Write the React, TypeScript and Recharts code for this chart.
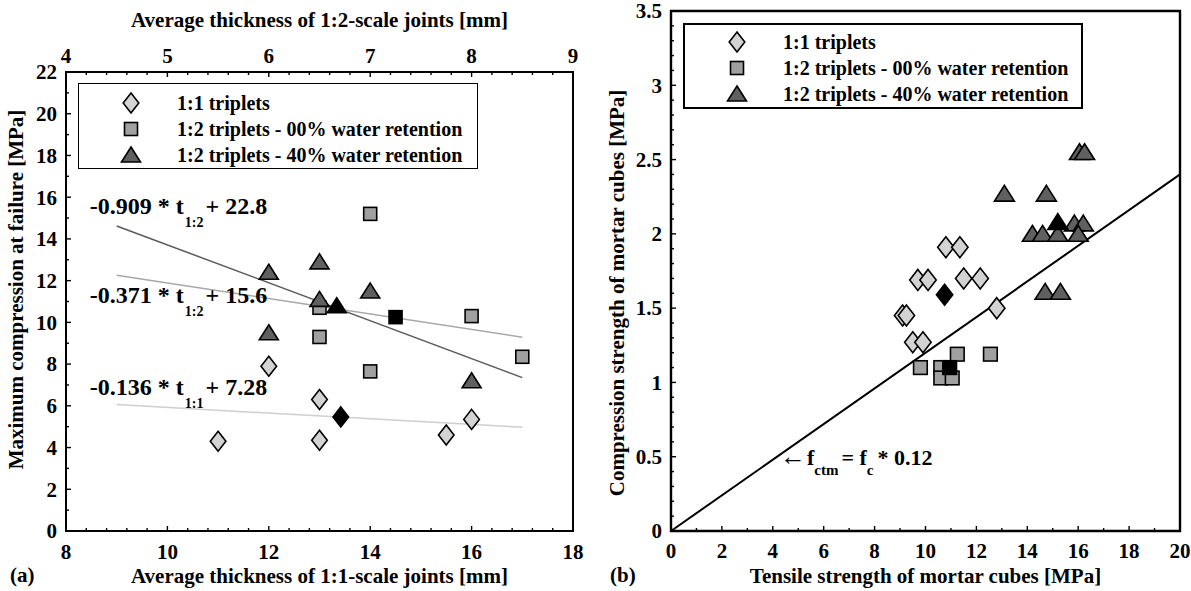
import React from "react";
import {
  ScatterChart,
  Scatter,
  XAxis,
  YAxis,
  ReferenceLine,
  ReferenceArea,
  ReferenceDot,
  Legend,
  Label,
} from "recharts";

const FONT = '"Liberation Serif", "Times New Roman", Times, serif';

// ---------- (a) joint thickness vs. compression at failure ----------
const aBottomMajor = [8, 10, 12, 14, 16, 18];
const aBottomMinor = [8.4, 8.8, 9.2, 9.6, 10.4, 10.8, 11.2, 11.6, 12.4, 12.8, 13.2, 13.6, 14.4, 14.8, 15.2, 15.6, 16.4, 16.8, 17.2, 17.6];
const aTopMajor = [4, 5, 6, 7, 8, 9];
const aTopMinor = [4.2, 4.4, 4.6, 4.8, 5.2, 5.4, 5.6, 5.8, 6.2, 6.4, 6.6, 6.8, 7.2, 7.4, 7.6, 7.8, 8.2, 8.4, 8.6, 8.8];
const aYMajor = [0, 2, 4, 6, 8, 10, 12, 14, 16, 18, 20, 22];
const aYMinor = [1, 3, 5, 7, 9, 11, 13, 15, 17, 19, 21];

// 1:1 triplets, bottom axis (1:1-scale joints)
const a11 = [
  { x: 11, y: 4.3 },
  { x: 12, y: 7.9 },
  { x: 13, y: 6.3 },
  { x: 13, y: 4.35 },
  { x: 15.5, y: 4.6 },
  { x: 16, y: 5.35 },
];
const a11Mean = [{ x: 13.42, y: 5.47 }];
// 1:2 triplets, top axis (1:2-scale joints)
const a12Dry = [
  { x: 6.5, y: 10.7 },
  { x: 6.5, y: 9.3 },
  { x: 7, y: 15.2 },
  { x: 7, y: 7.65 },
  { x: 8, y: 10.3 },
  { x: 8.5, y: 8.35 },
];
const a12DryMean = [{ x: 7.25, y: 10.25 }];
const a12Wet = [
  { x: 6, y: 12.4 },
  { x: 6, y: 9.5 },
  { x: 6.5, y: 12.9 },
  { x: 6.5, y: 11.1 },
  { x: 7, y: 11.5 },
  { x: 8, y: 7.2 },
];
const a12WetMean = [{ x: 6.67, y: 10.8 }];

// fitted lines (end points)
const aFitWet = [{ x: 9, y: 14.62 }, { x: 17, y: 7.35 }];
const aFitDry = [{ x: 9, y: 12.26 }, { x: 17, y: 9.29 }];
const aFit11 = [{ x: 9, y: 6.06 }, { x: 17, y: 4.97 }];

const aEquations = [
  { pre: "-0.909 * t", sub: "1:2", post: "+ 22.8", at: { x: 8.47, y: 15.2 } },
  { pre: "-0.371 * t", sub: "1:2", post: "+ 15.6", at: { x: 8.47, y: 10.95 } },
  { pre: "-0.136 * t", sub: "1:1", post: "+ 7.28", at: { x: 8.47, y: 6.5 } },
];

// ---------- (b) tensile vs. compression strength of mortar cubes ----------
const bXMajor = [0, 2, 4, 6, 8, 10, 12, 14, 16, 18, 20];
const bXMinor = [1, 3, 5, 7, 9, 11, 13, 15, 17, 19];
const bYMajor = [0, 0.5, 1, 1.5, 2, 2.5, 3, 3.5];
const bYMinor = [0.1, 0.2, 0.3, 0.4, 0.6, 0.7, 0.8, 0.9, 1.1, 1.2, 1.3, 1.4, 1.6, 1.7, 1.8, 1.9, 2.1, 2.2, 2.3, 2.4, 2.6, 2.7, 2.8, 2.9, 3.1, 3.2, 3.3, 3.4];

const b11 = [
  { x: 10.8, y: 1.91 },
  { x: 11.35, y: 1.91 },
  { x: 9.7, y: 1.69 },
  { x: 10.1, y: 1.69 },
  { x: 11.5, y: 1.7 },
  { x: 12.15, y: 1.7 },
  { x: 9.1, y: 1.45 },
  { x: 9.25, y: 1.45 },
  { x: 12.8, y: 1.5 },
  { x: 9.5, y: 1.27 },
  { x: 9.9, y: 1.27 },
];
const b11Mean = [{ x: 10.75, y: 1.59 }];
const b12Dry = [
  { x: 11.25, y: 1.19 },
  { x: 12.55, y: 1.19 },
  { x: 9.8, y: 1.1 },
  { x: 10.6, y: 1.1 },
  { x: 10.6, y: 1.03 },
  { x: 11.05, y: 1.03 },
];
const b12DryMean = [{ x: 10.95, y: 1.1 }];
const b12Wet = [
  { x: 16.05, y: 2.55 },
  { x: 16.25, y: 2.55 },
  { x: 13.1, y: 2.27 },
  { x: 14.75, y: 2.27 },
  { x: 15.85, y: 2.07 },
  { x: 16.2, y: 2.07 },
  { x: 14.2, y: 2.0 },
  { x: 14.6, y: 2.0 },
  { x: 15.2, y: 2.0 },
  { x: 16.0, y: 2.0 },
  { x: 14.7, y: 1.61 },
  { x: 15.3, y: 1.61 },
];
const b12WetMean = [{ x: 15.2, y: 2.08 }];
const bRelation = [{ x: 0, y: 0 }, { x: 20, y: 2.4 }];

const SERIES_11 = "1:1 triplets";
const SERIES_DRY = "1:2 triplets - 00% water retention";
const SERIES_WET = "1:2 triplets - 40% water retention";

const C_DIAMOND = "#d3d3d3";
const C_SQUARE = "#a0a0a0";
const C_TRIANGLE = "#606060";

const boldText = { fontFamily: FONT, fontWeight: 700, fill: "#000" } as const;

function marker(type: string, cx: number, cy: number, fill: string, s = 1) {
  const common = { fill, stroke: "#000", strokeWidth: 1.6, strokeLinejoin: "miter" as const };
  if (type === "diamond") {
    const w = 7.8 * s, h = 10 * s;
    return <polygon {...common} points={`${cx},${cy - h} ${cx + w},${cy} ${cx},${cy + h} ${cx - w},${cy}`} />;
  }
  if (type === "square") {
    const a = 6.5 * s;
    return <rect {...common} x={cx - a} y={cy - a} width={2 * a} height={2 * a} />;
  }
  const w = 9.5 * s, h = 8 * s;
  return <polygon {...common} points={`${cx},${cy - h} ${cx + w},${cy + h - 1} ${cx - w},${cy + h - 1}`} />;
}

const shapeOf = (type: string, fill: string, s = 1) => (p: any) => marker(type, p.cx, p.cy, fill, s);

function axisTick(side: "bottom" | "top" | "left", majors: number[], gap: number) {
  return function Tick(props: any) {
    const { x, y, payload } = props;
    const v: number = payload.value;
    const isMajor = majors.includes(v);
    const len = isMajor ? 5 : 3;
    if (side === "left") {
      return (
        <g>
          <line x1={x} y1={y} x2={x + len} y2={y} stroke="#000" strokeWidth={1.4} />
          {isMajor && (
            <text x={x - gap} y={y} dy="0.35em" textAnchor="end" fontSize={21} style={boldText}>
              {String(v)}
            </text>
          )}
        </g>
      );
    }
    const dir = side === "bottom" ? -1 : 1;
    return (
      <g>
        <line x1={x} y1={y} x2={x} y2={y + dir * len} stroke="#000" strokeWidth={1.4} />
        {isMajor && (
          <text x={x} y={side === "bottom" ? y + gap : y - gap} textAnchor="middle" fontSize={21} style={boldText}>
            {String(v)}
          </text>
        )}
      </g>
    );
  };
}

const sorted = (a: number[], b: number[]) => [...a, ...b].sort((p, q) => p - q);

function LegendBox(props: any) {
  const iconFor: Record<string, string> = { diamond: C_DIAMOND, square: C_SQUARE, triangle: C_TRIANGLE };
  const items = (props.payload || []).filter((p: any) => p.type && p.type !== "none");
  return (
    <div
      style={{
        border: `${props.border}px solid #000`,
        width: 400,
        height: 86,
        boxSizing: "border-box",
        background: "#fff",
        paddingTop: props.padTop,
        fontFamily: FONT,
        fontWeight: 700,
        fontSize: 20,
        color: "#000",
        textAlign: "left",
      }}
    >
      {items.map((item: any) => (
        <div key={item.value} style={{ display: "flex", alignItems: "center", height: 26 }}>
          <svg width={98} height={26} style={{ flex: "none" }}>
            {marker(item.type, 52, 13, iconFor[item.type] || item.color)}
          </svg>
          <span style={{ whiteSpace: "nowrap" }}>{item.value}</span>
        </div>
      ))}
    </div>
  );
}

const equationShape = (eq: { pre: string; sub: string; post: string }) => (p: any) => (
  <text x={p.cx} y={p.cy} fontSize={24} style={boldText}>
    <tspan>{eq.pre}</tspan>
    <tspan dx={1} dy={13} fontSize={14}>
      {eq.sub}
    </tspan>
    <tspan dx={2} dy={-13}>
      {eq.post}
    </tspan>
  </text>
);

const relationShape = (p: any) => (
  <text x={p.cx} y={p.cy} fontSize={22} style={boldText}>
    <tspan fontSize={26}>←</tspan>
    <tspan dx={1}>f</tspan>
    <tspan dy={10} fontSize={15}>ctm</tspan>
    <tspan dy={-10} dx={3}>= f</tspan>
    <tspan dy={10} fontSize={15}>c</tspan>
    <tspan dy={-10} dx={4}>* 0.12</tspan>
  </text>
);

function ChartA() {
  return (
    <ScatterChart width={600} height={591} margin={{ top: 42, right: 27, bottom: 30, left: 16 }}>
      <XAxis
        xAxisId="bottom"
        type="number"
        dataKey="x"
        domain={[8, 18]}
        ticks={sorted(aBottomMajor, aBottomMinor)}
        interval={0}
        allowDataOverflow
        axisLine={false}
        tickLine={false}
        tickSize={0}
        tickMargin={0}
        height={30}
        tick={axisTick("bottom", aBottomMajor, 28)}
      >
        <Label
          content={(p: any) => (
            <text x={p.viewBox.x + p.viewBox.width / 2} y={p.viewBox.y + 52} textAnchor="middle" fontSize={21} style={boldText}>
              Average thickness of 1:1-scale joints [mm]
            </text>
          )}
        />
      </XAxis>
      <XAxis
        xAxisId="top"
        orientation="top"
        type="number"
        dataKey="x"
        domain={[4, 9]}
        ticks={sorted(aTopMajor, aTopMinor)}
        interval={0}
        allowDataOverflow
        axisLine={false}
        tickLine={false}
        tickSize={0}
        tickMargin={0}
        height={30}
        tick={axisTick("top", aTopMajor, 9)}
      >
        <Label
          content={(p: any) => (
            <text x={p.viewBox.x + p.viewBox.width / 2} y={p.viewBox.y - 15} textAnchor="middle" fontSize={21} style={boldText}>
              Average thickness of 1:2-scale joints [mm]
            </text>
          )}
        />
      </XAxis>
      <YAxis
        type="number"
        dataKey="y"
        domain={[0, 22]}
        ticks={sorted(aYMajor, aYMinor)}
        interval={0}
        allowDataOverflow
        axisLine={false}
        tickLine={false}
        tickSize={0}
        tickMargin={0}
        width={50}
        tick={axisTick("left", aYMajor, 9)}
      >
        <Label
          content={(p: any) => {
            const cx = p.viewBox.x;
            const cy = p.viewBox.y + p.viewBox.height / 2 - 12;
            return (
              <text x={cx} y={cy} transform={`rotate(-90 ${cx} ${cy})`} textAnchor="middle" dominantBaseline="central" fontSize={21} style={boldText}>
                Maximum compression at failure [MPa]
              </text>
            );
          }}
        />
      </YAxis>
      <ReferenceArea xAxisId="bottom" x1={8} x2={18} y1={0} y2={22} fill="none" stroke="#000" strokeWidth={2} ifOverflow="visible" />
      <ReferenceLine xAxisId="bottom" segment={aFitWet} stroke="#5a5a5a" strokeWidth={1.5} ifOverflow="visible" />
      <ReferenceLine xAxisId="bottom" segment={aFitDry} stroke="#a8a8a8" strokeWidth={1.5} ifOverflow="visible" />
      <ReferenceLine xAxisId="bottom" segment={aFit11} stroke="#cfcfcf" strokeWidth={1.5} ifOverflow="visible" />
      {aEquations.map((eq) => (
        <ReferenceDot key={eq.pre + eq.post} xAxisId="bottom" x={eq.at.x} y={eq.at.y} r={0} ifOverflow="visible" shape={equationShape(eq)} />
      ))}
      <Scatter xAxisId="bottom" name={SERIES_11} data={a11} fill={C_DIAMOND} legendType="diamond" shape={shapeOf("diamond", C_DIAMOND)} isAnimationActive={false} />
      <Scatter xAxisId="top" name={SERIES_DRY} data={a12Dry} fill={C_SQUARE} legendType="square" shape={shapeOf("square", C_SQUARE)} isAnimationActive={false} />
      <Scatter xAxisId="top" name={SERIES_WET} data={a12Wet} fill={C_TRIANGLE} legendType="triangle" shape={shapeOf("triangle", C_TRIANGLE)} isAnimationActive={false} />
      <Scatter xAxisId="bottom" name="mean 1:1" data={a11Mean} fill="#000" legendType="none" shape={shapeOf("diamond", "#000")} isAnimationActive={false} />
      <Scatter xAxisId="top" name="mean 00%" data={a12DryMean} fill="#000" legendType="none" shape={shapeOf("square", "#000")} isAnimationActive={false} />
      <Scatter xAxisId="top" name="mean 40%" data={a12WetMean} fill="#000" legendType="none" shape={shapeOf("triangle", "#000")} isAnimationActive={false} />
      <Legend
        layout="horizontal"
        verticalAlign="middle"
        align="center"
        wrapperStyle={{ left: 78, top: 83, width: 400 }}
        content={(p: any) => <LegendBox {...p} border={1.5} padTop={6} />}
      />
    </ScatterChart>
  );
}

function ChartB() {
  return (
    <ScatterChart width={591} height={591} margin={{ top: 11, right: 11, bottom: 30, left: 21 }}>
      <XAxis
        type="number"
        dataKey="x"
        domain={[0, 20]}
        ticks={sorted(bXMajor, bXMinor)}
        interval={0}
        allowDataOverflow
        axisLine={false}
        tickLine={false}
        tickSize={0}
        tickMargin={0}
        height={30}
        tick={axisTick("bottom", bXMajor, 27)}
      >
        <Label
          content={(p: any) => (
            <text x={p.viewBox.x + p.viewBox.width / 2} y={p.viewBox.y + 52} textAnchor="middle" fontSize={21} style={boldText}>
              Tensile strength of mortar cubes [MPa]
            </text>
          )}
        />
      </XAxis>
      <YAxis
        type="number"
        dataKey="y"
        domain={[0, 3.5]}
        ticks={sorted(bYMajor, bYMinor)}
        interval={0}
        allowDataOverflow
        axisLine={false}
        tickLine={false}
        tickSize={0}
        tickMargin={0}
        width={50}
        tick={axisTick("left", bYMajor, 9)}
      >
        <Label
          content={(p: any) => {
            const cx = p.viewBox.x - 4;
            const cy = p.viewBox.y + p.viewBox.height / 2 + 22;
            return (
              <text x={cx} y={cy} transform={`rotate(-90 ${cx} ${cy})`} textAnchor="middle" dominantBaseline="central" fontSize={21} style={boldText}>
                Compression strength of mortar cubes [MPa]
              </text>
            );
          }}
        />
      </YAxis>
      <ReferenceArea x1={0} x2={20} y1={0} y2={3.5} fill="none" stroke="#000" strokeWidth={2.4} ifOverflow="visible" />
      <ReferenceLine segment={bRelation} stroke="#000" strokeWidth={2} ifOverflow="visible" />
      <ReferenceDot x={4.28} y={0.445} r={0} ifOverflow="visible" shape={relationShape} />
      <Scatter name={SERIES_11} data={b11} fill={C_DIAMOND} legendType="diamond" shape={shapeOf("diamond", C_DIAMOND, 1.05)} isAnimationActive={false} />
      <Scatter name={SERIES_DRY} data={b12Dry} fill={C_SQUARE} legendType="square" shape={shapeOf("square", C_SQUARE, 1.05)} isAnimationActive={false} />
      <Scatter name={SERIES_WET} data={b12Wet} fill={C_TRIANGLE} legendType="triangle" shape={shapeOf("triangle", C_TRIANGLE, 1.05)} isAnimationActive={false} />
      <Scatter name="mean 1:1" data={b11Mean} fill="#000" legendType="none" shape={shapeOf("diamond", "#000", 1.05)} isAnimationActive={false} />
      <Scatter name="mean 00%" data={b12DryMean} fill="#000" legendType="none" shape={shapeOf("square", "#000", 1.05)} isAnimationActive={false} />
      <Scatter name="mean 40%" data={b12WetMean} fill="#000" legendType="none" shape={shapeOf("triangle", "#000", 1.05)} isAnimationActive={false} />
      <Legend
        layout="horizontal"
        verticalAlign="middle"
        align="center"
        wrapperStyle={{ left: 83, top: 23, width: 400 }}
        content={(p: any) => <LegendBox {...p} border={2} padTop={4} />}
      />
    </ScatterChart>
  );
}

const panelTag = { position: "absolute" as const, top: 565, fontFamily: FONT, fontWeight: 700, fontSize: 21, lineHeight: "21px" };

export default function App() {
  return (
    <div style={{ position: "absolute", left: 0, top: 0, width: 1191, height: 591, background: "#fff" }}>
      <div style={{ position: "absolute", left: 0, top: 0 }}>
        <ChartA />
      </div>
      <div style={{ position: "absolute", left: 600, top: 0 }}>
        <ChartB />
      </div>
      <div style={{ ...panelTag, left: 10 }}>(a)</div>
      <div style={{ ...panelTag, left: 610 }}>(b)</div>
    </div>
  );
}
